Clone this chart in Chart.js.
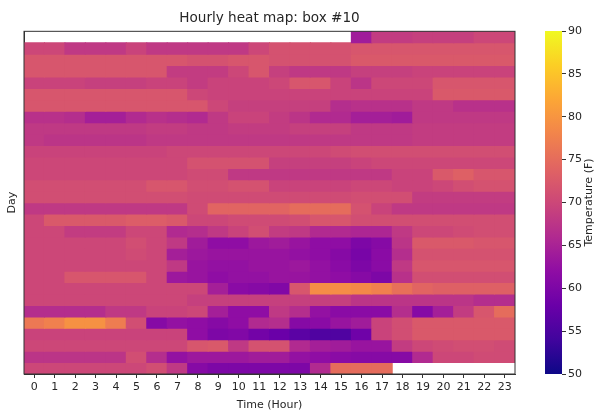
<!DOCTYPE html>
<html lang="en">

<head>
  <meta charset="UTF-8">
  <title>Hourly heat map: box #10</title>
  <script src="https://cdn.jsdelivr.net/npm/chart.js"></script>
  <style>
    body { margin: 0; background: #fff; }
    #wrap { position: relative; width: 594px; height: 414px; }
    #heatBox { position: absolute; left: 0; top: 0; width: 522px; height: 414px; }
    #barBox { position: absolute; left: 522px; top: 0; width: 72px; height: 414px; }
  </style>
</head>

<body>
  <div id="wrap">
    <div id="heatBox"><canvas id="heatChart"></canvas></div>
    <div id="barBox"><canvas id="barChart"></canvas></div>
  </div>

  <script>
    // Datos
    const hours = ['0', '1', '2', '3', '4', '5', '6', '7', '8', '9', '10', '11',
      '12', '13', '14', '15', '16', '17', '18', '19', '20', '21', '22', '23'];
    const tempTicks = [50, 55, 60, 65, 70, 75, 80, 85, 90];
    const tempMin = 50;
    const tempMax = 90;

    // one row per day, top to bottom; null = no reading
    const temps = [
      [null, null, null, null, null, null, null, null, null, null, null, null, null, null, null, null, 64, 68.5, 68.5, 69, 69, 69, 70, 70],
      [70, 70, 68, 68, 68, 69.5, 68, 68, 68, 68, 68, 70, 71.5, 71.5, 71.5, 71.5, 72, 72, 72, 72, 72, 72, 72, 72],
      [72, 72, 72, 72, 72, 72, 72, 72, 71.5, 71.5, 72, 72, 71.5, 71.5, 71.5, 71.5, 72.5, 72.5, 72.5, 72.5, 72.5, 72.5, 72.5, 72.5],
      [72, 72, 72, 72, 72, 72, 72, 68.5, 68.5, 68.5, 70, 72, 69, 68, 68, 68, 69, 69, 69, 69.5, 69.5, 69.5, 69.5, 69.5],
      [69.5, 69.5, 69.5, 69, 69, 69, 69.5, 69.5, 68.5, 69.5, 69.5, 69.5, 70, 72, 72, 69.5, 67.5, 70, 70, 70, 72, 72, 72, 72],
      [72, 72, 72, 72, 72, 72, 72, 72, 70, 69.5, 69.5, 69.5, 69.5, 69.5, 69.5, 69.5, 69.5, 69.5, 69.5, 69.5, 72.5, 72.5, 72.5, 72.5],
      [72, 72, 72, 72, 72, 72, 72, 72, 72, 70, 69, 69, 69, 69, 69, 66.5, 67, 67, 67, 68, 68, 67, 67, 67],
      [67, 67, 66.5, 64.5, 64.5, 66, 67, 66.5, 66, 68, 69.5, 69.5, 68.5, 67.5, 66, 66, 64.5, 64.5, 64, 68, 68, 68, 68, 68],
      [68, 68, 68, 68, 68, 68, 68.5, 68.5, 68, 68, 68.5, 68.5, 68.5, 69, 69, 69, 68, 68, 68, 68.5, 68.5, 68.5, 68.5, 68.5],
      [68, 67.5, 67.5, 67.5, 67.5, 67.5, 68, 68, 68, 68, 68, 68, 68, 68, 68, 68, 68, 68, 68, 68.5, 68.5, 68.5, 68.5, 68.5],
      [69.5, 69.5, 69.5, 69.5, 69.5, 69.5, 69.5, 70, 70, 70, 70, 70, 70, 70, 70, 70.5, 71, 71, 71, 71, 71, 71, 71, 71],
      [70, 70, 70, 70, 70, 70, 70, 70, 71.5, 71.5, 71.5, 71.5, 69, 69, 69, 69, 69.5, 70, 70, 70, 70, 70, 70, 70],
      [70, 70, 70, 70, 70, 70, 70, 70, 70.5, 70.5, 68, 68, 68, 68, 68, 68, 68, 68, 69.5, 69.5, 72.5, 73.5, 72, 72],
      [71, 71, 71, 71, 71, 71, 72, 72, 71, 71, 71.5, 71.5, 69.5, 69.5, 69.5, 69.5, 70, 70, 69.5, 69.5, 70, 71, 71.5, 71.5],
      [71, 71, 71, 71, 71, 71, 71, 71, 70.5, 70.5, 70.5, 70.5, 70.5, 70.5, 70.5, 70.5, 71, 71, 71, 68.5, 68.5, 68.5, 68.5, 68.5],
      [68, 68, 68, 68, 68, 68, 68, 68, 70.5, 74, 74, 74, 74, 75, 75, 75, 71.5, 69.5, 68, 68, 68, 68, 68, 68],
      [70, 72.5, 72.5, 72.5, 72.5, 73, 73, 72.5, 70, 70, 70.5, 70.5, 70.5, 71, 72, 72, 71, 71, 71, 71, 71, 71, 71, 71],
      [70, 70, 68.5, 68.5, 68.5, 70, 70, 66, 66.5, 68, 69.5, 71, 68.5, 68, 66, 66, 65.5, 65.5, 68, 70, 70, 70.5, 71, 71],
      [70, 70, 70, 70, 70, 71, 70, 68, 64, 62, 62, 63.5, 64, 63, 62, 62, 60, 61, 67.5, 72.5, 72.5, 72.5, 72, 72],
      [70, 70, 70, 70, 70, 70.5, 70, 64.5, 63.5, 63, 63, 63, 63, 62.5, 62, 61, 59.5, 61.5, 66.5, 71.5, 71.5, 71.5, 71.5, 71.5],
      [70, 70, 70, 70, 70, 70, 70, 68, 63, 62.5, 62.5, 63, 63, 63.5, 62.5, 61.5, 60, 61.5, 68, 72, 72, 72, 72, 72],
      [70, 70, 72, 72, 72, 72, 70, 63.5, 63, 62, 62.5, 62.5, 63, 63, 62.5, 62, 61, 60, 67, 71, 71, 71, 71, 71],
      [70, 70, 70, 70, 70, 70, 70, 70, 70, 64.5, 61.5, 61, 60.5, 72, 79, 79, 78.5, 77.5, 75.5, 74, 73.5, 73.5, 73.5, 73.5],
      [70, 70, 70, 70, 70, 70, 70, 70, 69, 69, 69, 69, 69, 69, 69, 69, 67.5, 67.5, 67.5, 67.5, 67.5, 67.5, 66.5, 66.5],
      [66.5, 66.5, 66.5, 66.5, 68, 68, 69.5, 69.5, 70, 64.5, 62, 62, 68, 66.5, 62.5, 61.5, 61.5, 61.5, 66.5, 61, 64.5, 68.5, 72, 75],
      [76.5, 77.5, 79.5, 79.5, 77, 71, 61, 62.5, 62, 61, 62, 66, 66.5, 61, 61.5, 63, 64, 69.5, 71, 72.5, 72.5, 72.5, 72.5, 72.5],
      [69.5, 69.5, 69.5, 69.5, 69.5, 69.5, 69.5, 69.5, 62, 60, 60.5, 59, 58, 56.5, 55.5, 55.5, 58.5, 69.5, 71, 72.5, 72.5, 72.5, 72.5, 72.5],
      [70, 70, 70, 70, 70, 70, 70, 70, 72, 72.5, 68, 71.5, 71.5, 66, 64.5, 64, 63, 63, 68.5, 70, 70.5, 71, 71, 70.5],
      [67.5, 67.5, 67.5, 67.5, 67.5, 71, 66.5, 62.5, 63.5, 63.5, 63.5, 64, 64, 62.5, 62, 61.5, 61, 61, 61, 66, 70, 70, 70.5, 70.5],
      [70, 70, 70, 70, 70, 70, 71, 68, 61, 60, 60, 60, 60, 60, 66, 75, 75, 75, null, null, null, null, null, null]
    ];

    // paleta "plasma" (11 paradas)
    const plasma = ['#0d0887', '#41049d', '#6a00a8', '#8f0da4', '#b12a90', '#cc4778',
      '#e16462', '#f2844b', '#fca636', '#fcce25', '#f0f921'];

    function hexToRgb(h) {
      return [parseInt(h.slice(1, 3), 16), parseInt(h.slice(3, 5), 16), parseInt(h.slice(5, 7), 16)];
    }

    function colorFor(v) {
      let t = (v - tempMin) / (tempMax - tempMin);
      t = Math.min(1, Math.max(0, t)) * (plasma.length - 1);
      const i = Math.min(plasma.length - 2, Math.floor(t));
      const f = t - i;
      const a = hexToRgb(plasma[i]);
      const b = hexToRgb(plasma[i + 1]);
      const c = a.map((x, k) => Math.round(x + (b[k] - x) * f));
      return `rgb(${c[0]},${c[1]},${c[2]})`;
    }

    const txt = '#262626';
    const font = size => ({ family: '"DejaVu Sans", sans-serif', size, weight: 'normal' });

    // marco negro alrededor del área del gráfico
    const frame = {
      id: 'frame',
      afterDatasetsDraw(chart) {
        const { ctx, chartArea: a } = chart;
        ctx.save();
        ctx.strokeStyle = '#333';
        ctx.lineWidth = 1;
        ctx.strokeRect(a.left, a.top, a.right - a.left, a.bottom - a.top);
        ctx.restore();
      }
    };

    new Chart(document.getElementById('heatChart'), {
      type: 'bar',
      data: {
        labels: hours,
        datasets: temps.map((row, r) => ({
          label: 'Day ' + r,
          data: row.map(v => v == null ? null : [r, r + 1]),
          backgroundColor: row.map(v => v == null ? '#fff' : colorFor(v)),
          borderWidth: 0,
          barPercentage: 1,
          categoryPercentage: 1,
          inflateAmount: 0.5,
          grouped: false
        }))
      },
      options: {
        animation: false,
        responsive: true,
        maintainAspectRatio: false,
        layout: { padding: { right: 7 } },
        plugins: {
          legend: { display: false },
          tooltip: { enabled: false },
          title: {
            display: true,
            fullSize: false,
            text: 'Hourly heat map: box #10',
            color: txt,
            font: font(13.6),
            padding: { top: 10, bottom: 5 }
          }
        },
        scales: {
          x: {
            grid: { offset: false, drawOnChartArea: false, tickLength: 4, color: '#333' },
            border: { color: '#333' },
            ticks: { color: txt, font: font(11), padding: 3, maxRotation: 0, autoSkip: false },
            title: { display: true, text: 'Time (Hour)', color: txt, font: font(11), padding: { top: 2, bottom: 2 } },
            afterFit: s => { s.height = 40; }
          },
          y: {
            min: 0,
            max: temps.length,
            reverse: true,
            ticks: { display: false },
            grid: { display: false },
            border: { color: '#333' },
            title: { display: true, text: 'Day', color: txt, font: font(11), padding: { top: 6, bottom: 0 } },
            afterFit: s => { s.width = 24; }
          }
        }
      },
      plugins: [frame]
    });

    // barra de color con su título girado
    const barTitle = {
      id: 'barTitle',
      afterDraw(chart) {
        const { ctx, chartArea: a } = chart;
        ctx.save();
        ctx.translate(chart.width - 5, (a.top + a.bottom) / 2);
        ctx.rotate(-Math.PI / 2);
        ctx.font = '11px "DejaVu Sans", sans-serif';
        ctx.fillStyle = txt;
        ctx.textAlign = 'center';
        ctx.textBaseline = 'middle';
        ctx.fillText('Temperature (F)', 0, 0);
        ctx.restore();
      }
    };

    new Chart(document.getElementById('barChart'), {
      type: 'bar',
      data: {
        labels: [''],
        datasets: [{
          data: [[tempMin, tempMax]],
          backgroundColor: c => {
            const area = c.chart.chartArea;
            if (!area) return plasma[0];
            const g = c.chart.ctx.createLinearGradient(0, area.bottom, 0, area.top);
            plasma.forEach((col, i) => g.addColorStop(i / (plasma.length - 1), col));
            return g;
          },
          borderWidth: 0,
          barPercentage: 1,
          categoryPercentage: 1,
          inflateAmount: 0
        }]
      },
      options: {
        animation: false,
        responsive: true,
        maintainAspectRatio: false,
        layout: { padding: { left: 23, top: 31, bottom: 40, right: 0 } },
        plugins: { legend: { display: false }, tooltip: { enabled: false } },
        scales: {
          x: { display: false },
          y: {
            position: 'right',
            min: tempMin,
            max: tempMax,
            afterBuildTicks: s => { s.ticks = tempTicks.map(v => ({ value: v })); },
            ticks: { color: txt, font: font(11), padding: 2 },
            grid: { drawOnChartArea: false, tickLength: 4, color: '#333' },
            border: { display: false },
            afterFit: s => { s.width = 32; }
          }
        }
      },
      plugins: [barTitle]
    });
  </script>
</body>

</html>
